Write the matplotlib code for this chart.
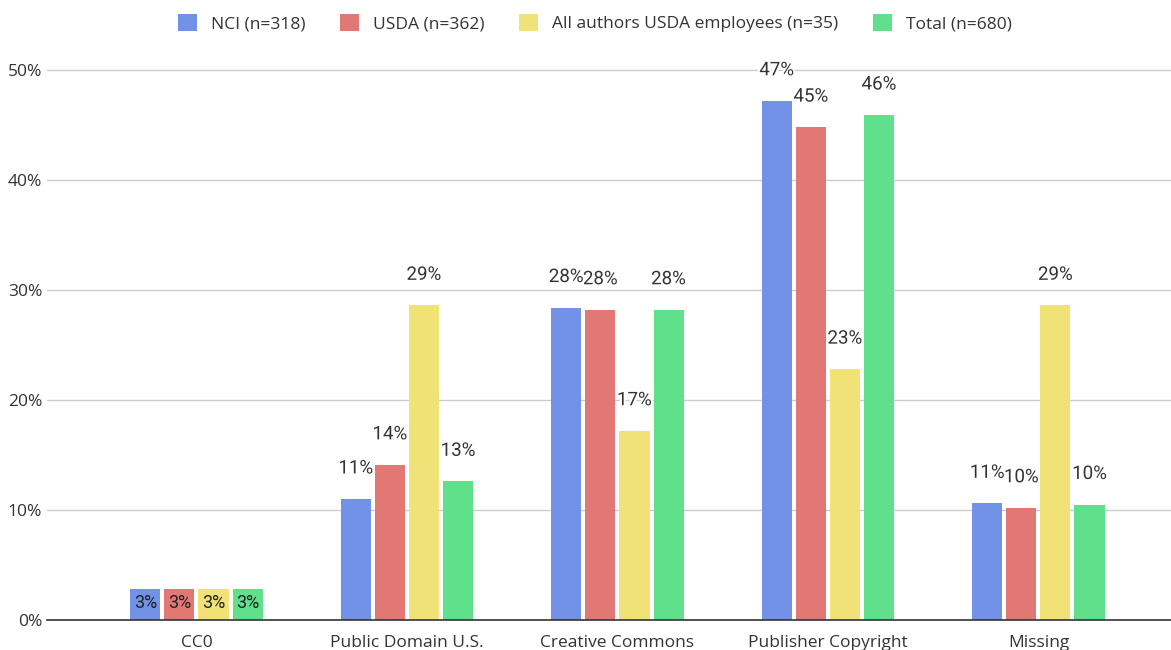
import numpy as np
import matplotlib.pyplot as plt
import matplotlib.patheffects as pe

# Lizenzkategorien
categories = ["CC0", "Public Domain U.S.", "Creative Commons", "Publisher Copyright", "Missing"]
series_names = ["NCI (n=318)", "USDA (n=362)", "All authors USDA employees (n=35)", "Total (n=680)"]

nci = [2.8, 11.0, 28.4, 47.2, 10.6]
usda = [2.8, 14.1, 28.2, 44.8, 10.2]
usda_all = [2.8, 28.6, 17.2, 22.8, 28.6]
total = [2.8, 12.6, 28.2, 45.9, 10.5]

colors = ["#7192e6", "#e17873", "#f0e277", "#61e08b"]

fig = plt.figure(figsize=(11.71, 6.5), dpi=100)
ax = fig.add_axes([47 / 1171, 30 / 650, 1124 / 1171, 560 / 650])

x = np.arange(len(categories))
step = 0.162
width = 0.143
halo = [pe.withStroke(linewidth=3, foreground="white")]

for i, (vals, name, col) in enumerate(zip([nci, usda, usda_all, total], series_names, colors)):
    pos = x + (i - 1.5) * step
    ax.bar(pos, vals, width, color=col, label=name, zorder=3)
    for px, v in zip(pos, vals):
        if v < 5:
            # zu klein -> Beschriftung im Balken
            ax.annotate(f"{round(v)}%", (px, v), xytext=(0, -10), textcoords="offset points",
                        ha="center", va="center", fontsize=13, color="#222222",
                        family="Roboto", zorder=4)
        else:
            ax.annotate(f"{round(v)}%", (px, v), xytext=(0, 22), textcoords="offset points",
                        ha="center", va="center", fontsize=13.5, color="#333333",
                        family="Roboto", path_effects=halo, zorder=4, annotation_clip=False)

ax.set_xlim(-0.71, 4.63)
ax.set_ylim(0, 560 / 11)
ax.set_yticks([0, 10, 20, 30, 40, 50])
ax.set_yticklabels([f"{t}%" for t in [0, 10, 20, 30, 40, 50]])
ax.set_xticks(x)
ax.set_xticklabels(categories)
ax.tick_params(axis="both", length=0, labelsize=12.5, labelcolor="#333333")
ax.tick_params(axis="x", pad=11)
for lab in ax.get_xticklabels() + ax.get_yticklabels():
    lab.set_family("Open Sans")

ax.yaxis.grid(True, color="#cccccc", linewidth=1, zorder=0)
for s in ["top", "right", "left"]:
    ax.spines[s].set_visible(False)
ax.spines["bottom"].set_color("#333333")
ax.spines["bottom"].set_linewidth(1.2)
ax.spines["bottom"].set_zorder(5)

leg = fig.legend(loc="upper center", bbox_to_anchor=(0.508, 1.003), ncol=4, frameon=False,
                 handlelength=1.1, handleheight=1.2, handletextpad=0.8, columnspacing=2.0,
                 prop={"family": "Open Sans", "size": 12.5})
for t in leg.get_texts():
    t.set_color("#333333")

fig.savefig("out.png", dpi=100)
